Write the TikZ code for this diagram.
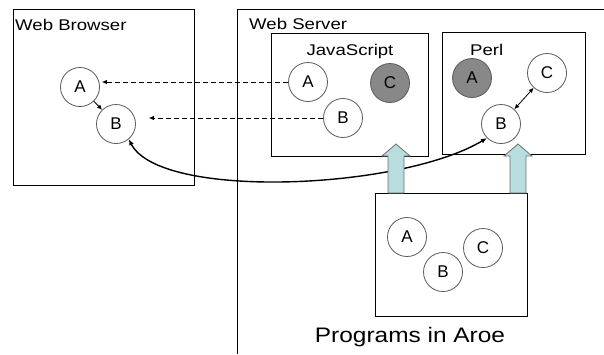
\documentclass[tikz,border=0pt]{standalone}
\usepackage{fontspec}
\setmainfont{Liberation Sans}
\usetikzlibrary{arrows.meta}

\tikzset{
  obj/.style={shape=circle,draw=objline,line width=0.8pt,fill=white,minimum size=39pt,inner sep=0pt,font=\fontsize{17}{19}\selectfont},
  objdone/.style={obj,fill=objgray},
  boxlbl/.style={inner sep=0pt,font=\fontsize{15.5}{18}\selectfont,xscale=1.2},
  tip/.style={-{Latex[length=5pt,width=4.5pt]}},
  blockarrow/.style={draw=arrline,line width=0.8pt,fill=arrfill}
}

\begin{document}
\begin{tikzpicture}[x=1pt,y=-1pt]
    \definecolor{objline}{RGB}{90,90,90}
    \definecolor{objgray}{RGB}{136,136,136}
    \definecolor{arrfill}{RGB}{183,221,223}
    \definecolor{arrline}{RGB}{110,110,110}
    \useasboundingbox (0,0) rectangle (604,354);

    \draw[line width=0.8pt] (13,9) rectangle (194,185);
    \node[boxlbl,anchor=base west] (browserlbl) at (15,30) {Web Browser};
    \draw[line width=0.8pt] (604,9) -- (237,9) -- (237,354);
    \node[boxlbl,anchor=base west] (serverlbl) at (249,29) {Web Server};

    \draw[line width=0.8pt] (271,33) rectangle (428,156);
    \node[boxlbl,anchor=base] (jslbl) at (350,55) {JavaScript};
    \draw[line width=0.8pt] (442,32) rectangle (585,154);
    \node[boxlbl,anchor=base west] (perllbl) at (470,55) {Perl};
    \draw[line width=0.8pt] (375,193) rectangle (527,316);
    \node[boxlbl,anchor=base,font=\fontsize{21}{24}\selectfont,xscale=0.97] (proglbl) at (410,342) {Programs in Aroe};

    \node[obj] (bA) at (80,87) {A};
    \node[obj] (bB) at (116,124) {B};

    \node[obj] (jA) at (308,82) {A};
    \node[obj] (jB) at (343,118) {B};
    \node[objdone] (jC) at (390,83) {C};

    \node[objdone] (pA) at (472,78) {A};
    \node[obj] (pC) at (547,73) {C};
    \node[obj] (pB) at (501,124) {B};

    \node[obj] (gA) at (407,237) {A};
    \node[obj] (gB) at (443,272) {B};
    \node[obj] (gC) at (483,248) {C};

    \draw[tip,line width=0.8pt] (bA) -- (bB);
    \draw[tip,dash pattern=on 5pt off 3pt,line width=0.8pt,shorten >=2pt] (jA.west) -- (bA.east |- jA.west);
    \draw[tip,dash pattern=on 5pt off 3pt,line width=0.8pt,shorten >=13pt] (jB.west) -- (bB.east |- jB.west);
    \draw[{Latex[length=5pt,width=4.5pt]}-{Latex[length=5pt,width=4.5pt]},line width=0.8pt] (pB) -- (pC);
    \draw[{Latex[length=6pt,width=5pt]}-{Latex[length=6pt,width=5pt]},line width=1.4pt] (bB.-50) .. controls (160,200) and (400,190) .. (pB.-135);

    \foreach \ax in {396,518}
      \draw[blockarrow] (\ax-8,193) -- (\ax-8,156) -- (\ax-14,156) -- (\ax,144) -- (\ax+14,156) -- (\ax+8,156) -- (\ax+8,193) -- cycle;
\end{tikzpicture}
\end{document}
